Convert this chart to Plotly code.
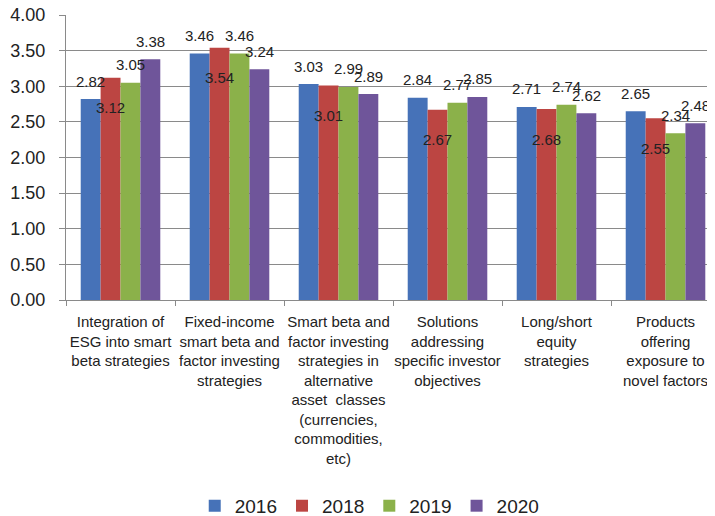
import plotly.graph_objects as go

categories = [
    "Integration of<br>ESG into smart<br>beta strategies",
    "Fixed-income<br>smart beta and<br>factor investing<br>strategies",
    "Smart beta and<br>factor investing<br>strategies in<br>alternative<br>asset  classes<br>(currencies,<br>commodities,<br>etc)",
    "Solutions<br>addressing<br>specific investor<br>objectives",
    "Long/short<br>equity<br>strategies",
    "Products<br>offering<br>exposure to<br>novel factors",
]
years = ["2016", "2018", "2019", "2020"]
v2016 = [2.82, 3.46, 3.03, 2.84, 2.71, 2.65]
v2018 = [3.12, 3.54, 3.01, 2.67, 2.68, 2.55]
v2019 = [3.05, 3.46, 2.99, 2.77, 2.74, 2.34]
v2020 = [3.38, 3.24, 2.89, 2.85, 2.62, 2.48]
series = [v2016, v2018, v2019, v2020]
colors = ["#4672B8", "#BC4542", "#8BB14A", "#6F559A"]
label_shift = [18, -30, 18, 18]

bargap = 0.27
bar_w = (1 - bargap) / len(series)

fig = go.Figure()
for name, vals, col in zip(years, series, colors):
    fig.add_trace(go.Bar(name=name, x=categories, y=vals, marker=dict(color=col, line=dict(width=0))))

annotations = []
for j, vals in enumerate(series):
    off = (j - (len(series) - 1) / 2) * bar_w
    for i, v in enumerate(vals):
        annotations.append(dict(
            x=i + off, y=v, xref="x", yref="y", text=f"{v:.2f}", showarrow=False,
            yshift=label_shift[j], font=dict(size=15, color="#222222"),
        ))

fig.update_layout(
    width=707, height=508,
    margin=dict(l=58, r=0, t=7, b=216),
    paper_bgcolor="white", plot_bgcolor="white",
    barmode="group", bargap=bargap, bargroupgap=0,
    font=dict(family="Arial, Liberation Sans, sans-serif", color="#222222"),
    annotations=annotations,
    showlegend=True,
    legend=dict(orientation="h", x=0.468, xanchor="center", yref="container", y=0.02,
                yanchor="middle", font=dict(size=19), itemwidth=30, traceorder="normal"),
    xaxis=dict(
        range=[-0.5, 5.454], tickson="boundaries", ticks="outside", ticklen=5,
        tickcolor="#8a8a8a", showline=True, linecolor="#8a8a8a", linewidth=1.3,
        tickfont=dict(size=15), showgrid=False, tickangle=0, automargin=False,
        ticklabelstandoff=8,
    ),
    yaxis=dict(
        range=[0, 4], dtick=0.5, tickformat=".2f", ticks="outside", ticklen=6,
        tickcolor="#8a8a8a", showline=True, linecolor="#8a8a8a", linewidth=1.3,
        gridcolor="#8a8a8a", gridwidth=1.3, tickfont=dict(size=18), ticklabelstandoff=10,
        zeroline=False, automargin=False, ticklabeloverflow="allow",
    ),
)

fig.write_html("out.html")
